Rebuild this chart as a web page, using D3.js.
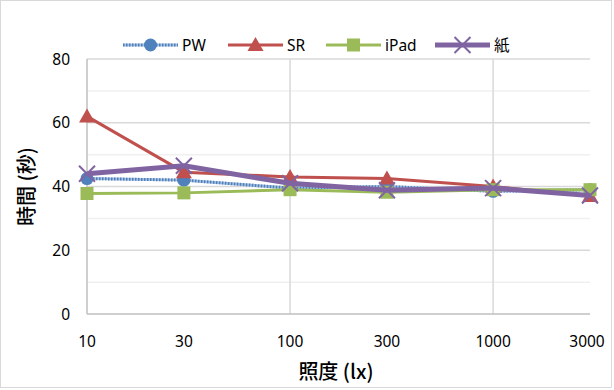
<!DOCTYPE html>
<html>
<head>
<meta charset="utf-8">
<script src="https://cdn.jsdelivr.net/npm/d3@7"></script>
<style>
  body { margin: 0; background: #fff; }
  svg { display: block; }
  text { font-family: "Noto Sans", "Open Sans", sans-serif; fill: #000; }
  .cjk { font-family: "Noto Sans CJK JP", "Noto Sans", sans-serif; }
</style>
</head>
<body>
<div id="chart"></div>
<script>
// illuminance categories (lx) and series values (seconds)
const lux = [10, 30, 100, 300, 1000, 3000];
const pw   = [42.5, 42, 39.5, 40, 38.5, 39];
const sr   = [62, 44.5, 43, 42.5, 40, 37];
const ipad = [37.8, 38, 39, 38.2, 39, 39];
const kami = [44, 46.5, 41, 38.8, 39.5, 37.2];
const yTicks = [0, 20, 40, 60, 80];
const yMinor = [10, 30, 50, 70];
const xGrid = [100, 1000];

const W = 614, H = 390;
const margin = {top: 59, right: 24, bottom: 76, left: 87};

const svg = d3.select("#chart").append("svg")
  .attr("width", W)
  .attr("height", H);

// chart area border
svg.append("rect")
  .attr("x", 0.5).attr("y", 0.5)
  .attr("width", W - 3).attr("height", H - 3)
  .attr("fill", "none")
  .attr("stroke", "#d9d9d9");

const x = d3.scaleLog()
  .domain([10, 3000])
  .range([margin.left, W - margin.right]);
const y = d3.scaleLinear()
  .domain([0, 80])
  .range([H - margin.bottom, margin.top]);

//----------------------------------------
// gridlines
//----------------------------------------
svg.selectAll(".minor")
  .data(yMinor)
  .enter().append("line")
  .attr("x1", x.range()[0]).attr("x2", x.range()[1])
  .attr("y1", d => y(d)).attr("y2", d => y(d))
  .attr("stroke", "#f0f0f0").attr("stroke-width", 1.5);

svg.selectAll(".major")
  .data(yTicks.filter(d => d > 0))
  .enter().append("line")
  .attr("x1", x.range()[0]).attr("x2", x.range()[1])
  .attr("y1", d => y(d)).attr("y2", d => y(d))
  .attr("stroke", "#d9d9d9").attr("stroke-width", 1.5);

svg.selectAll(".vgrid")
  .data(xGrid)
  .enter().append("line")
  .attr("x1", d => x(d)).attr("x2", d => x(d))
  .attr("y1", y(0)).attr("y2", y(80))
  .attr("stroke", "#d9d9d9").attr("stroke-width", 1.5);

// axis lines
svg.append("line")
  .attr("x1", x(10)).attr("x2", x(10))
  .attr("y1", y(0)).attr("y2", y(80))
  .attr("stroke", "#bfbfbf").attr("stroke-width", 1.5);
svg.append("line")
  .attr("x1", x.range()[0]).attr("x2", x.range()[1])
  .attr("y1", y(0)).attr("y2", y(0))
  .attr("stroke", "#bfbfbf").attr("stroke-width", 1.5);

//----------------------------------------
// tick labels
//----------------------------------------
svg.selectAll(".ylab")
  .data(yTicks)
  .enter().append("text")
  .attr("x", 70)
  .attr("y", d => y(d))
  .attr("dy", "0.36em")
  .attr("text-anchor", "end")
  .attr("font-size", 15.5)
  .text(d => d);

svg.selectAll(".xlab")
  .data(lux)
  .enter().append("text")
  .attr("x", (d, i) => i === lux.length - 1 ? x(d) - 3 : x(d))
  .attr("y", 341)
  .attr("dy", "0.36em")
  .attr("text-anchor", "middle")
  .attr("font-size", 15.5)
  .text(d => d);

// axis titles
svg.append("text")
  .attr("class", "cjk")
  .attr("x", 336).attr("y", 372)
  .attr("dy", "0.36em")
  .attr("text-anchor", "middle")
  .attr("font-size", 20)
  .attr("font-weight", 500)
  .text("照度 (lx)");

svg.append("text")
  .attr("class", "cjk")
  .attr("transform", `translate(27,${(y(0) + y(80)) / 2}) rotate(-90)`)
  .attr("dy", "0.36em")
  .attr("text-anchor", "middle")
  .attr("font-size", 20)
  .attr("font-weight", 500)
  .text("時間 (秒)");

//----------------------------------------
// series
//----------------------------------------
const series = [
  {name: "PW", values: pw, color: "#4F81BD", width: 3, marker: "circle"},
  {name: "SR", values: sr, color: "#C0504D", width: 3, marker: "triangle"},
  {name: "iPad", values: ipad, color: "#9BBB59", width: 3, marker: "square"},
  {name: "紙", values: kami, color: "#8064A2", width: 5, marker: "x"}
];

const line = d3.line()
  .x(d => x(d.lux))
  .y(d => y(d.v));

function drawMarker(g, s, cx, cy) {
  if (s.marker === "circle") {
    g.append("circle").attr("cx", cx).attr("cy", cy).attr("r", 6.5)
      .attr("fill", s.color);
  } else if (s.marker === "triangle") {
    g.append("path")
      .attr("d", `M${cx},${cy - 8}L${cx + 8},${cy + 6}L${cx - 8},${cy + 6}Z`)
      .attr("fill", s.color);
  } else if (s.marker === "square") {
    g.append("rect").attr("x", cx - 6.5).attr("y", cy - 6.5)
      .attr("width", 13).attr("height", 13)
      .attr("fill", s.color);
  } else {
    g.append("path")
      .attr("d", `M${cx - 8},${cy - 8}L${cx + 8},${cy + 8}M${cx + 8},${cy - 8}L${cx - 8},${cy + 8}`)
      .attr("stroke", s.color).attr("stroke-width", 2).attr("fill", "none");
  }
}

function drawLine(g, s, pts) {
  if (s.name === "PW") {
    g.append("path").datum(pts).attr("d", line)
      .attr("fill", "none").attr("stroke", "#a7c0e0").attr("stroke-width", s.width);
    g.append("path").datum(pts).attr("d", line)
      .attr("fill", "none").attr("stroke", s.color).attr("stroke-width", s.width)
      .attr("stroke-dasharray", "1.5,1.5");
  } else {
    g.append("path").datum(pts).attr("d", line)
      .attr("fill", "none").attr("stroke", s.color).attr("stroke-width", s.width)
      .attr("stroke-linejoin", "round");
  }
}

series.forEach(s => {
  const g = svg.append("g");
  const pts = lux.map((l, i) => ({lux: l, v: s.values[i]}));
  drawLine(g, s, pts);
  pts.forEach(p => drawMarker(g, s, x(p.lux), y(p.v)));
});

//----------------------------------------
// legend
//----------------------------------------
const legendX = [123, 228, 326, 435];
series.forEach((s, i) => {
  const g = svg.append("g");
  const x0 = legendX[i], x1 = x0 + 55, cy = 45;
  const pts = [{lux: x.invert(x0), v: y.invert(cy)}, {lux: x.invert(x1), v: y.invert(cy)}];
  drawLine(g, s, pts);
  drawMarker(g, s, (x0 + x1) / 2, cy);
  g.append("text")
    .attr("class", s.name === "紙" ? "cjk" : null)
    .attr("x", x1 + 4).attr("y", cy)
    .attr("dy", "0.36em")
    .attr("font-size", 15.5)
    .text(s.name);
});
</script>
</body>
</html>
